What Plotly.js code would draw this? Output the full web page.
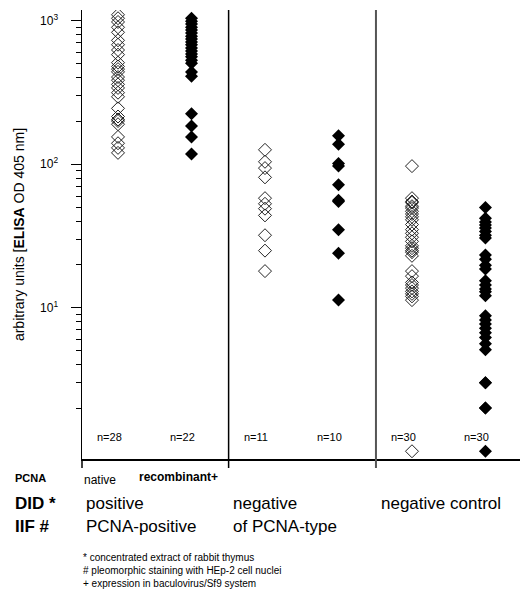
<!DOCTYPE html>
<html>
<head>
<meta charset="utf-8">
<script src="https://cdn.plot.ly/plotly-3.0.1.min.js"></script>
<style>html,body{margin:0;padding:0;background:#fff;}#chart{width:520px;height:597px;}</style>
</head>
<body>
<div id="chart"></div>
<script>
// ---- data ----
const groups = ['positive native', 'positive recombinant', 'negative native', 'negative recombinant', 'control native', 'control recombinant'];
const nLabels = ['n=28', 'n=22', 'n=11', 'n=10', 'n=30', 'n=30'];
const positiveNative = [1100, 1040, 980, 900, 830, 730, 680, 625, 580, 510, 480, 460, 440, 405, 385, 360, 340, 315, 295, 245, 215, 205, 200, 190, 155, 140, 130, 120];
const positiveRecombinant = [1040, 990, 950, 900, 860, 820, 780, 745, 710, 680, 645, 615, 585, 560, 530, 505, 440, 410, 225, 185, 155, 118];
const negativeNative = [126, 104, 94, 81, 58, 53, 49, 44, 32, 25, 18];
const negativeRecombinant = [158, 138, 101, 97, 72, 56, 55, 35, 24, 11.3];
const controlNative = [97, 58, 55, 54, 51, 49.5, 47, 45, 43, 41, 38, 35, 33, 31, 29, 27, 26, 25, 24.4, 23, 18, 16.6, 15, 14.4, 13.7, 13, 12.5, 12, 11.3, 1.0];
const controlRecombinant = [50, 42, 39.6, 37.7, 36, 34, 32, 30.6, 23.3, 21.8, 19.8, 18.6, 15.4, 14.4, 13.5, 12.9, 12.1, 8.8, 8.2, 7.7, 7.2, 6.7, 6.2, 5.6, 5.1, 3.0, 3.0, 2.0, 2.0, 1.0];
const yTickVals = [10, 100, 1000];
const yTickText = ['10<sup>1</sup>', '10<sup>2</sup>', '10<sup>3</sup>'];
const yMinorVals = [2,3,4,5,6,7,8,9,20,30,40,50,60,70,80,90,200,300,400,500,600,700,800,900];

const series = [positiveNative, positiveRecombinant, negativeNative, negativeRecombinant, controlNative, controlRecombinant];
const FONT = 'Liberation Sans, Arial, Helvetica, sans-serif';

const traces = series.map((vals, i) => {
  const open = (i % 2 === 0);
  return {
    type: 'scatter', mode: 'markers', name: groups[i],
    x: vals.map(() => i), y: vals,
    marker: open
      ? {symbol: 'diamond-open', size: 10, color: '#222', line: {width: 1, color: '#222'}}
      : {symbol: 'diamond', size: 10, color: '#000', line: {width: 0}},
    showlegend: false, hoverinfo: 'y'
  };
});

const L = 82, PW = 438, T = 10, PH = 449;
const px = x => (x - L) / PW;
const py = y => (T + PH - y) / PH;

const annotations = [];
nLabels.forEach((t, i) => annotations.push({
  text: t, xref: 'x', yref: 'paper', x: i - 0.12, y: py(437), xanchor: 'center', yanchor: 'middle',
  showarrow: false, font: {family: FONT, size: 11, color: '#000'}
}));
function addText(text, x, y, size, bold) {
  annotations.push({text: bold ? '<b>' + text + '</b>' : text, xref: 'paper', yref: 'paper',
    x: px(x), y: py(y), xanchor: 'left', yanchor: 'middle', showarrow: false,
    font: {family: FONT, size: size, color: '#000'}});
}
addText('PCNA', 13, 478, 11, true);
addText('native', 82, 480, 12, false);
addText('recombinant+', 137, 477, 12, true);
addText('DID *', 13, 503, 17, true);
addText('positive', 84, 503, 17, false);
addText('negative', 231, 503, 17, false);
addText('negative control', 379, 503, 17, false);
addText('IIF #', 13, 526, 17, true);
addText('PCNA-positive', 84, 526, 17, false);
addText('of PCNA-type', 231, 526, 17, false);
addText('* concentrated extract of rabbit thymus', 81, 557, 10, false);
addText('# pleomorphic staining with HEp-2 cell nuclei', 81, 570, 10, false);
addText('+ expression in baculovirus/Sf9 system', 81, 583, 10, false);

const shapes = [
  {type: 'line', xref: 'x', yref: 'paper', x0: 1.505, x1: 1.505, y0: py(468), y1: 1, line: {color: '#000', width: 1.5}},
  {type: 'line', xref: 'x', yref: 'paper', x0: 3.51, x1: 3.51, y0: py(468), y1: 1, line: {color: '#555', width: 2}},
  {type: 'line', xref: 'paper', yref: 'paper', x0: 0, x1: 0, y0: py(468), y1: 0, line: {color: '#000', width: 1.5}},
  // long major tick at 10^0 (unlabelled)
  {type: 'line', xref: 'paper', yref: 'y', x0: -10 / PW, x1: 0, y0: 0, y1: 0, line: {color: '#000', width: 1}}
];

const layout = {
  width: 520, height: 597,
  margin: {l: L, r: 0, t: T, b: 597 - T - PH, pad: 0},
  paper_bgcolor: '#fff', plot_bgcolor: '#fff',
  font: {family: FONT, color: '#000'},
  xaxis: {range: [-0.49, 5.47], showticklabels: false, ticks: '', showgrid: false, zeroline: false,
    showline: true, linecolor: '#000', linewidth: 1.5},
  yaxis: {type: 'log', range: [-0.054, 3.0746], showgrid: false, zeroline: false,
    showline: true, linecolor: '#000', linewidth: 1.5,
    tickmode: 'array', tickvals: yTickVals, ticktext: yTickText,
    ticks: 'outside', ticklen: 10, tickwidth: 1, tickcolor: '#000', ticklabelstandoff: 10,
    tickfont: {family: FONT, size: 12, color: '#000'},
    minor: {tickmode: 'array', tickvals: yMinorVals, ticks: 'outside', ticklen: 5, tickwidth: 1, tickcolor: '#000', showgrid: false},
    title: {text: 'arbitrary units [<b>ELISA</b> OD 405 nm]', font: {family: FONT, size: 14, color: '#000'}, standoff: 12}
  },
  annotations: annotations,
  shapes: shapes,
  showlegend: false
};

Plotly.newPlot('chart', traces, layout, {staticPlot: true, displayModeBar: false});
</script>
</body>
</html>
